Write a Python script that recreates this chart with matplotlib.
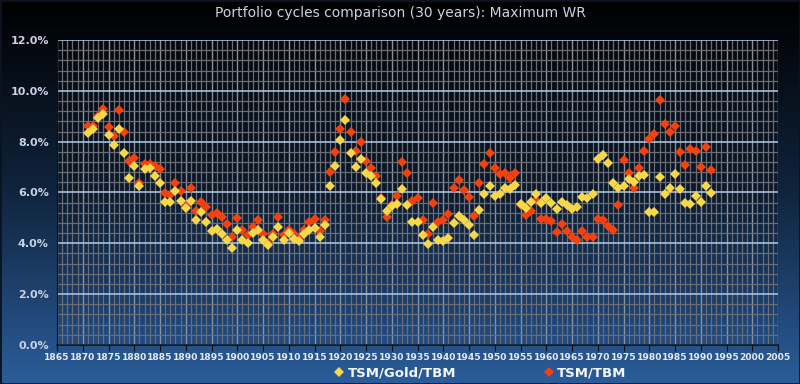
# Portfolio cycles comparison (30 years): maximum withdrawal rate per start year
import matplotlib.pyplot as plt
import numpy as np
from matplotlib.ticker import MultipleLocator, FuncFormatter
from matplotlib.lines import Line2D
from matplotlib.patches import Rectangle
from matplotlib.colors import LinearSegmentedColormap

years = list(range(1871, 1993))

# TSM/Gold/TBM max withdrawal rate (%)
gold_tbm = [8.35, 8.50, 8.94, 9.08, 8.26, 7.87, 8.50, 7.54, 6.56, 7.04,
            6.25, 6.91, 6.95, 6.66, 6.36, 5.63, 5.62, 6.05, 5.68, 5.40,
            5.67, 4.91, 5.24, 4.82, 4.47, 4.58, 4.38, 4.14, 3.82, 4.51,
            4.13, 4.03, 4.41, 4.51, 4.12, 3.95, 4.25, 4.64, 4.12, 4.41,
            4.16, 4.08, 4.36, 4.54, 4.61, 4.25, 4.71, 6.25, 7.05, 8.07,
            8.86, 7.57, 7.01, 7.32, 6.75, 6.64, 6.38, 5.76, 5.28, 5.47,
            5.54, 6.14, 5.49, 4.82, 4.84, 4.32, 3.96, 4.64, 4.14, 4.08,
            4.21, 4.80, 5.08, 4.91, 4.74, 4.32, 5.30, 5.96, 6.25, 5.86,
            5.93, 6.16, 6.12, 6.29, 5.56, 5.39, 5.63, 5.93, 5.59, 5.79,
            5.59, 5.37, 5.63, 5.50, 5.37, 5.43, 5.83, 5.79, 5.93, 7.32,
            7.47, 7.18, 6.38, 6.16, 6.25, 6.55, 6.42, 6.66, 6.68, 5.22,
            5.24, 6.61, 5.96, 6.16, 6.74, 6.14, 5.57, 5.54, 5.86, 5.63,
            6.26, 5.99]

# TSM/TBM max withdrawal rate (%)
tsm_tbm = [8.62, 8.62, 9.00, 9.28, 8.59, 8.22, 9.25, 8.37, 7.24, 7.37,
           6.38, 7.11, 7.14, 7.04, 6.93, 5.99, 5.89, 6.39, 6.07, 5.45,
           6.16, 5.28, 5.63, 5.43, 5.11, 5.21, 5.04, 4.75, 4.25, 5.01,
           4.51, 4.34, 4.64, 4.93, 4.38, 4.00, 4.38, 5.04, 4.32, 4.54,
           4.36, 4.18, 4.51, 4.82, 4.97, 4.47, 4.93, 6.79, 7.59, 8.50,
           9.67, 8.37, 7.64, 7.97, 7.25, 6.97, 6.66, 5.79, 5.04, 5.50,
           5.87, 7.21, 6.78, 5.66, 5.80, 4.93, 4.38, 5.57, 4.84, 4.93,
           5.17, 6.17, 6.49, 6.09, 5.83, 5.08, 6.36, 7.13, 7.57, 6.97,
           6.72, 6.75, 6.58, 6.78, 5.50, 5.11, 5.28, 5.70, 4.97, 4.95,
           4.86, 4.45, 4.75, 4.47, 4.25, 4.14, 4.49, 4.24, 4.24, 4.95,
           4.91, 4.67, 4.51, 5.50, 7.28, 6.75, 6.17, 6.95, 7.64, 8.12,
           8.30, 9.62, 8.68, 8.39, 8.62, 7.59, 7.07, 7.70, 7.62, 7.00,
           7.78, 6.88]

series_names = ["TSM/Gold/TBM", "TSM/TBM"]
yellow = "#f7d84a"
red = "#f2420f"
text_col = "#c8d3e4"

fig = plt.figure(figsize=(8, 3.84), dpi=100)

# figure background gradient (black on top, blue at bottom)
bg = fig.add_axes([0, 0, 1, 1], zorder=-10)
bg.axis("off")
grad = np.linspace(0, 1, 256).reshape(-1, 1)
fig_cmap = LinearSegmentedColormap.from_list("figbg", ["#2b5d9a", "#10243d", "#000000"])
bg.imshow(grad, aspect="auto", cmap=fig_cmap, extent=[0, 1, 0, 1], origin="lower")
bg.set_xlim(0, 1)
bg.set_ylim(0, 1)
bg.add_patch(Rectangle((0, 0), 1, 1, fill=False, edgecolor="#0a1420", lw=2))

ax = fig.add_axes([0.0713, 0.1016, 0.9012, 0.7942])
plot_cmap = LinearSegmentedColormap.from_list("plotbg", ["#204c85", "#0c1a2c", "#05080c"])
ax.imshow(grad, aspect="auto", cmap=plot_cmap, extent=[0, 1, 0, 1],
          origin="lower", transform=ax.transAxes, zorder=0)

ax.set_xlim(1865, 2005)
ax.set_ylim(0, 12)

# grid: minor each year / 0.4 %, major each 5 years / 2 %
ax.xaxis.set_major_locator(MultipleLocator(5))
ax.xaxis.set_minor_locator(MultipleLocator(1))
ax.yaxis.set_major_locator(MultipleLocator(2))
ax.yaxis.set_minor_locator(MultipleLocator(0.4))
ax.grid(which="minor", color="#6a6e74", lw=0.9, zorder=1)
ax.grid(which="major", axis="x", color="#8a929c", lw=1.0, zorder=1)
ax.grid(which="major", axis="y", color="#a9c0dc", lw=1.2, zorder=1)
ax.set_axisbelow(True)

ax.plot(years, tsm_tbm, "D", color=red, ms=5.2, mew=0, zorder=3, label=series_names[1])
ax.plot(years, gold_tbm, "D", color=yellow, ms=5.2, mew=0, zorder=4, label=series_names[0])

ax.yaxis.set_major_formatter(FuncFormatter(lambda v, p: f"{v:.1f}%"))
ax.tick_params(axis="y", which="both", length=0, labelsize=8, labelcolor=text_col, pad=6)
ax.tick_params(axis="x", which="minor", length=0)
ax.tick_params(axis="x", which="major", length=4, color="#0a0f18", labelsize=6.6,
               labelcolor="#e4eaf2", pad=2)
for lab in ax.get_xticklabels() + ax.get_yticklabels():
    lab.set_fontweight("bold")

for side in ["top", "right"]:
    ax.spines[side].set_visible(False)
ax.spines["left"].set_color("#0a0f18")
ax.spines["bottom"].set_color("#0a0f18")
ax.spines["bottom"].set_linewidth(1.2)

fig.text(0.5, 0.965, "Portfolio cycles comparison (30 years): Maximum WR",
         ha="center", va="center", color=text_col, fontsize=10)

handles = [Line2D([], [], ls="", marker="D", color=yellow, ms=5, mew=0),
           Line2D([], [], ls="", marker="D", color=red, ms=5, mew=0)]
leg = fig.legend(handles, series_names, loc="center", bbox_to_anchor=(0.601, 0.028),
                 ncol=2, frameon=False, handlelength=0.6, handletextpad=0.35,
                 columnspacing=6.7, prop={"weight": "bold", "size": 9.5})
for t in leg.get_texts():
    t.set_color("#f4f6fa")

fig.savefig("out.png", dpi=100)
